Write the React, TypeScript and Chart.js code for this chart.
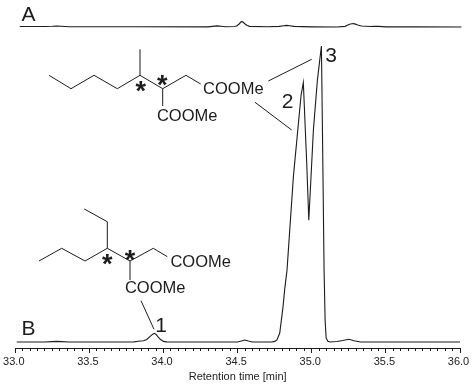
import React, { useEffect, useRef } from "react";
import { Chart, registerables } from "chart.js";

Chart.register(...registerables);

// Chromatogram data: retention time [min] and signal (arbitrary units, 0-100)
const traceATimes = [33.03, 33.2, 33.25, 33.28, 33.31, 33.36, 33.8, 34.3, 34.33, 34.36, 34.39, 34.42, 34.48, 34.495, 34.51, 34.52, 34.528, 34.537, 34.55, 34.565, 34.58, 34.7, 34.78, 34.81, 34.83, 34.85, 34.88, 35.0, 35.17, 35.225, 35.24, 35.255, 35.27, 35.28, 35.295, 35.31, 35.335, 35.4, 35.42, 35.45, 35.5, 35.7, 36.01];
const traceASignal = [94.55, 94.55, 94.62, 94.7, 94.62, 94.5, 94.5, 94.45, 94.6, 94.75, 94.65, 94.5, 94.55, 94.8, 95.3, 95.8, 96.05, 95.8, 95.3, 94.85, 94.6, 94.5, 94.6, 94.8, 94.88, 94.8, 94.6, 94.45, 94.4, 94.6, 94.9, 95.2, 95.35, 95.4, 95.25, 95.0, 94.7, 94.55, 94.65, 94.6, 94.45, 94.45, 94.4];
const traceBTimes = [33.01, 33.2, 33.25, 33.28, 33.31, 33.36, 33.7, 33.8, 33.83, 33.865, 33.887, 33.91, 33.925, 33.938, 33.95, 33.963, 33.976, 33.999, 34.02, 34.1, 34.5, 34.525, 34.548, 34.572, 34.6, 34.73, 34.75, 34.765, 34.784, 34.806, 34.817, 34.833, 34.876, 34.928, 34.943, 34.966, 34.98, 35.011, 35.038, 35.065, 35.072, 35.083, 35.09, 35.097, 35.109, 35.123, 35.17, 35.21, 35.25, 35.285, 35.33, 36.0];
const traceBSignal = [1.76, 1.76, 1.88, 1.95, 1.88, 1.76, 1.76, 1.8, 2.0, 2.15, 2.5, 3.4, 4.0, 4.3, 4.0, 3.3, 2.65, 1.95, 1.8, 1.76, 1.76, 2.05, 2.35, 2.05, 1.76, 1.76, 1.95, 2.4, 4.4, 12.1, 17.1, 22.9, 50.4, 74.4, 78.1, 54.4, 37.6, 64.1, 78.8, 88.8, 64.1, 23.2, 8.2, 2.9, 2.0, 1.76, 1.9, 2.2, 2.56, 2.15, 1.76, 1.76];

const axisTitle = "Retention time [min]";
const INK = "#1c1c1c";
const SANS = '"Liberation Sans", Arial, sans-serif';

type Pt = [number, number];
// Chemical structure drawing (overlay annotation, canvas pixels)
const bondPaths: Pt[][] = [
  [[49, 75.3], [71, 88.7], [94, 75.3], [117.3, 88.7], [140, 75.3], [162.7, 88.7], [186, 75.3], [200.7, 84]],
  [[140, 75.3], [140, 49.3]],
  [[162.7, 88.7], [162.7, 106]],
  [[39, 261], [61.7, 248.3], [85, 261], [107.3, 248.3], [130, 261], [153.3, 248.3], [167.3, 256.7]],
  [[107.3, 248.3], [107.3, 221.7], [84.3, 209]],
  [[130, 261], [130, 280]],
  [[268.3, 81], [311.7, 59.3]],
  [[255, 102.3], [291.7, 130]],
  [[141, 300.7], [154, 329.3]],
];
const chemLabels: [string, number, number][] = [
  ["COOMe", 233.3, 89],
  ["COOMe", 187.2, 115.5],
  ["COOMe", 200.7, 261.7],
  ["COOMe", 155.2, 288.3],
];
const bigLabels: [string, number, number][] = [
  ["A", 28.5, 14.5],
  ["B", 28.5, 329],
  ["1", 161, 325.5],
  ["2", 287.5, 102],
  ["3", 331, 56],
];
const stars: Pt[] = [[140.7, 86], [162.3, 80], [107.3, 259.3], [130, 255]];

const structurePlugin = {
  id: "structures",
  afterDraw(chart: Chart) {
    const ctx = chart.ctx;
    ctx.save();
    ctx.strokeStyle = INK;
    ctx.fillStyle = INK;
    ctx.lineWidth = 1;
    ctx.lineJoin = "miter";
    bondPaths.forEach((p) => {
      ctx.beginPath();
      p.forEach(([x, y], i) => (i ? ctx.lineTo(x, y) : ctx.moveTo(x, y)));
      ctx.stroke();
    });
    ctx.textAlign = "center";
    ctx.textBaseline = "middle";
    ctx.font = `16.5px ${SANS}`;
    chemLabels.forEach(([t, x, y]) => ctx.fillText(t, x, y + 0.5));
    ctx.font = `21px ${SANS}`;
    bigLabels.forEach(([t, x, y]) => ctx.fillText(t, x, y + 0.5));
    ctx.font = `bold 27px ${SANS}`;
    ctx.textBaseline = "alphabetic";
    const m = ctx.measureText("*");
    const dy = (m.actualBoundingBoxAscent - m.actualBoundingBoxDescent) / 2;
    stars.forEach(([x, y]) => ctx.fillText("*", x, y + dy));
    ctx.restore();
  },
};

export default function App() {
  const ref = useRef<HTMLCanvasElement>(null);
  useEffect(() => {
    const line = (xs: number[], ys: number[]) => ({
      data: xs.map((x, i) => ({ x, y: ys[i] })),
      borderColor: INK,
      borderWidth: 1.1,
      pointRadius: 0,
      tension: 0,
      borderJoinStyle: "miter" as const,
      clip: false as const,
      xAxisID: "x",
      yAxisID: "y",
    });
    const chart = new Chart(ref.current!, {
      type: "line",
      data: {
        datasets: [line(traceATimes, traceASignal), line(traceBTimes, traceBSignal)],
      },
      options: {
        animation: false,
        responsive: false,
        parsing: false,
        layout: { padding: { left: 15.3, right: 13, top: 8, bottom: 0 } },
        plugins: { legend: { display: false }, tooltip: { enabled: false } },
        scales: {
          y: { type: "linear", min: 0, max: 100, display: false },
          x: {
            type: "linear",
            min: 33,
            max: 36,
            afterFit: (s: any) => {
              s.height = 36;
            },
            border: { color: INK, width: 1 },
            grid: { drawOnChartArea: false, tickLength: 5, color: INK, tickWidth: 1 },
            ticks: {
              stepSize: 0.5,
              autoSkip: false,
              maxRotation: 0,
              padding: 2,
              labelOffset: -1.5,
              color: "#222",
              font: { family: SANS, size: 11 },
              callback: (v: any) => Number(v).toFixed(1),
            },
            title: {
              display: true,
              text: axisTitle,
              color: "#222",
              font: { family: SANS, size: 11 },
              padding: { top: 3.5, bottom: 0 },
            },
          },
          xMinor: {
            type: "linear",
            axis: "x",
            position: { y: 0 },
            min: 33,
            max: 36,
            border: { display: false },
            grid: { drawOnChartArea: false, tickLength: 3, color: INK, tickWidth: 1 },
            ticks: {
              stepSize: 0.05,
              autoSkip: false,
              maxRotation: 0,
              callback: () => "",
            },
          },
        },
      } as any,
      plugins: [structurePlugin],
    });
    return () => chart.destroy();
  }, []);
  return (
    <canvas
      ref={ref}
      width={473}
      height={384}
      style={{ position: "absolute", left: 0, top: 0, width: 473, height: 384, background: "#fff" }}
    />
  );
}
